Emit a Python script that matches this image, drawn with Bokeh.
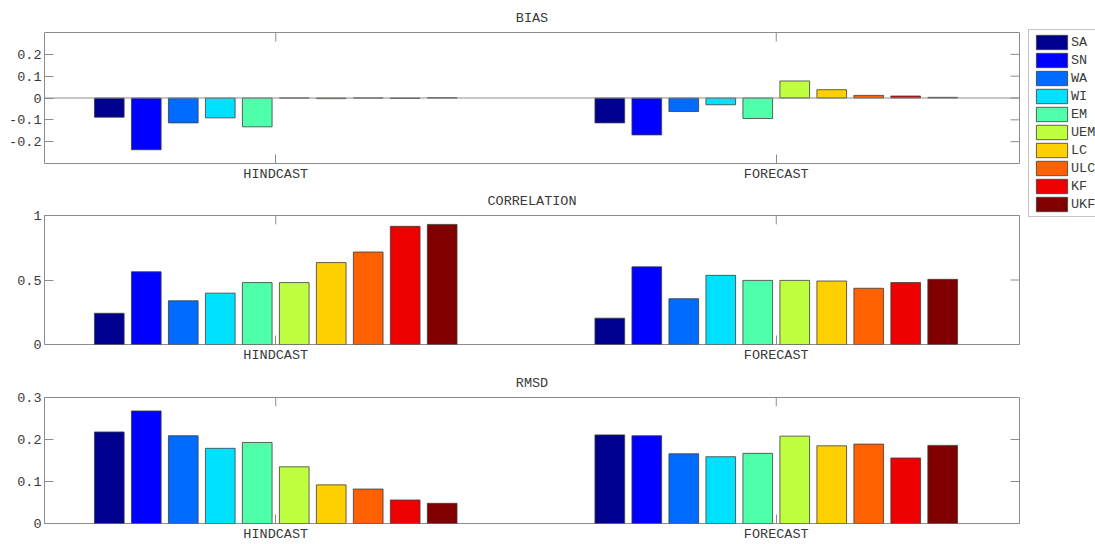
from bokeh.plotting import figure
from bokeh.models import (Range1d, FixedTicker, PrintfTickFormatter,
                          Span, Legend, LegendItem, ColumnDataSource)
from bokeh.layouts import row, column
from bokeh.embed import file_html
from bokeh.resources import INLINE

# ---- data -------------------------------------------------------------
models = ["SA", "SN", "WA", "WI", "EM", "UEM", "LC", "ULC", "KF", "UKF"]
periods = ["HINDCAST", "FORECAST"]
colors = ["#00008f", "#0000ff", "#006cff", "#00e0ff", "#50ffaa",
          "#bfff40", "#ffd000", "#ff6000", "#ee0000", "#800000"]

bias_hindcast = [-0.088, -0.237, -0.114, -0.091, -0.132, 0.0, -0.003, 0.0, -0.002, 0.001]
bias_forecast = [-0.114, -0.169, -0.062, -0.031, -0.094, 0.078, 0.038, 0.012, 0.009, 0.003]

corr_hindcast = [0.242, 0.564, 0.339, 0.398, 0.480, 0.480, 0.635, 0.717, 0.916, 0.931]
corr_forecast = [0.204, 0.602, 0.355, 0.536, 0.497, 0.497, 0.492, 0.436, 0.480, 0.505]

rmsd_hindcast = [0.218, 0.268, 0.209, 0.179, 0.193, 0.135, 0.092, 0.082, 0.056, 0.048]
rmsd_forecast = [0.211, 0.209, 0.166, 0.159, 0.167, 0.208, 0.185, 0.189, 0.156, 0.186]

bias_ticks = [-0.2, -0.1, 0, 0.1, 0.2]
corr_ticks = [0, 0.5, 1]
rmsd_ticks = [0, 0.1, 0.2, 0.3]

# ---- style ------------------------------------------------------------
FONT = "Liberation Mono"
FSIZE = "13.5px"
TEXT = "#3a3a3a"
BOX = "#8c8c8c"
EDGE = "#3c3c3c"
SLOT = 0.0739      # distance between neighbouring bars of a group
BAR_W = 0.0593     # bar width
X0, X1 = 0.538, 2.486
FRAME_W, FRAME_H = 975, 131
TICK_PX = 9


def style_axis(ax):
    ax.axis_line_color = None
    ax.major_tick_in = TICK_PX
    ax.major_tick_out = 0
    ax.minor_tick_line_color = None
    ax.major_tick_line_color = BOX
    ax.major_label_text_font = FONT
    ax.major_label_text_font_size = FSIZE
    ax.major_label_text_color = TEXT
    ax.major_label_standoff = 3


def panel(title, hind, fore, y0, y1, yticks, height, top, bottom, baseline=False):
    p = figure(width=1024, height=height, output_backend="svg", toolbar_location=None,
               x_range=Range1d(X0, X1), y_range=Range1d(y0, y1),
               min_border_left=44, min_border_right=5,
               min_border_top=top, min_border_bottom=bottom,
               title=title)
    p.title.align = "center"
    p.title.text_font = FONT
    p.title.text_font_size = FSIZE
    p.title.text_font_style = "normal"
    p.title.text_color = TEXT
    p.title.standoff = 13
    p.xgrid.visible = False
    p.ygrid.visible = False
    p.outline_line_color = BOX
    p.outline_line_width = 1
    p.background_fill_color = "white"

    xs, tops, cols = [], [], []
    for gi, vals in enumerate([hind, fore]):
        for i, v in enumerate(vals):
            xs.append(gi + 1 + (i - 4.5) * SLOT)
            tops.append(v)
            cols.append(colors[i])
    src = ColumnDataSource(dict(x=xs, top=tops, color=cols))
    p.vbar(x="x", top="top", bottom=0, width=BAR_W, source=src,
           fill_color="color", line_color=EDGE, line_width=0.8)

    if baseline:
        p.add_layout(Span(location=0, dimension="width", line_color=BOX, line_width=1))

    xa = p.xaxis[0]
    xa.ticker = FixedTicker(ticks=[1, 2])
    xa.major_label_overrides = {1: periods[0], 2: periods[1]}
    style_axis(xa)

    ya = p.yaxis[0]
    ya.ticker = FixedTicker(ticks=yticks)
    ya.formatter = PrintfTickFormatter(format="%g")
    style_axis(ya)

    # mirrored inward ticks on the top and right edges of the box
    dy = TICK_PX * (y1 - y0) / FRAME_H
    dx = TICK_PX * (X1 - X0) / FRAME_W
    p.segment(x0=[1, 2], y0=[y1, y1], x1=[1, 2], y1=[y1 - dy, y1 - dy],
              line_color=BOX, line_width=1)
    p.segment(x0=[X1] * len(yticks), y0=yticks, x1=[X1 - dx] * len(yticks), y1=yticks,
              line_color=BOX, line_width=1)
    return p


p_bias = panel("BIAS", bias_hindcast, bias_forecast, -0.3, 0.3, bias_ticks,
               185, 32, 22, baseline=True)
p_corr = panel("CORRELATION", corr_hindcast, corr_forecast, 0, 1, corr_ticks,
               180, 29, 20)
p_rmsd = panel("RMSD", rmsd_hindcast, rmsd_forecast, 0, 0.3, rmsd_ticks,
               179, 32, 16)

# ---- legend column --------------------------------------------------------
leg = figure(width=71, height=544, output_backend="svg", toolbar_location=None,
             x_range=Range1d(0, 1), y_range=Range1d(0, 1),
             x_axis_location=None, y_axis_location=None,
             min_border_left=0, min_border_right=0, min_border_top=25, min_border_bottom=0)
leg.xgrid.visible = False
leg.ygrid.visible = False
leg.outline_line_color = None

items = []
for m, c in zip(models, colors):
    r = leg.vbar(x=[-5], top=[-5], width=0.1, fill_color=c, line_color=EDGE, line_width=0.8)
    items.append(LegendItem(label=m, renderers=[r]))

legend = Legend(items=items, location="top_left", margin=4, padding=3, spacing=0,
                glyph_width=39, glyph_height=18, label_height=18, label_width=10,
                label_standoff=0, label_text_font=FONT, label_text_font_size=FSIZE,
                label_text_color=TEXT, border_line_color=BOX, border_line_width=1,
                background_fill_color="white", background_fill_alpha=1.0)
leg.add_layout(legend)

layout = row(column(p_bias, p_corr, p_rmsd), leg)

with open("out.html", "w") as f:
    f.write(file_html(layout, INLINE))
